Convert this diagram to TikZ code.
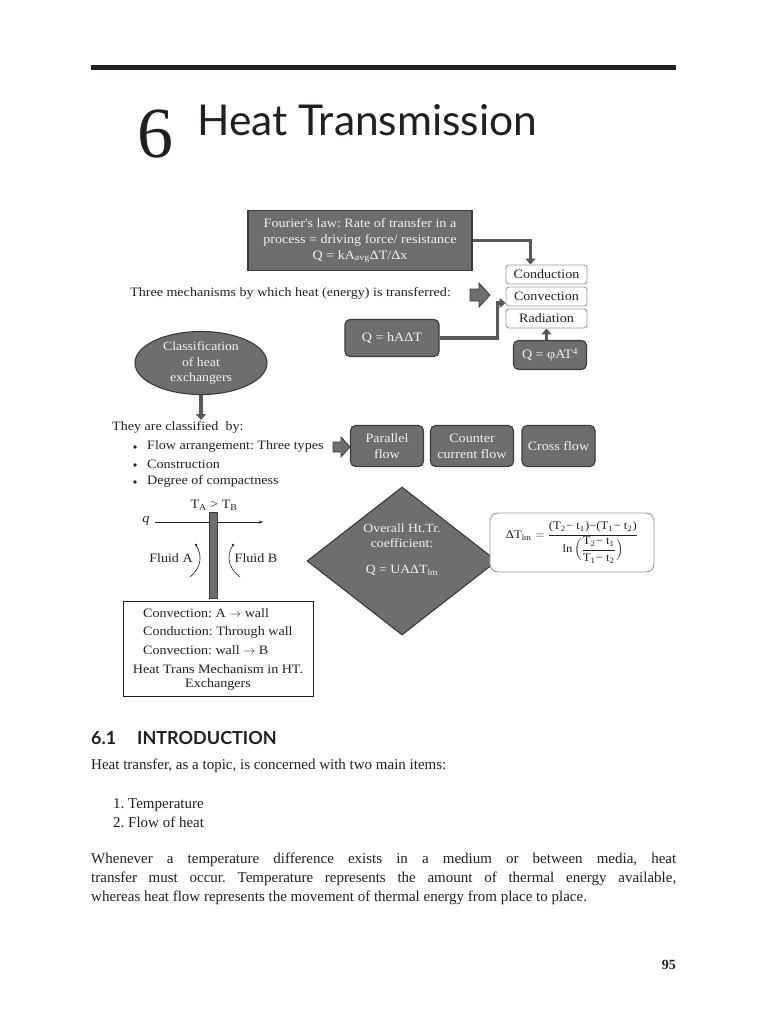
\documentclass[tikz,border=0pt]{standalone}
\usepackage{amsmath}
\usepackage{fontspec}
\setmainfont{Liberation Serif}
\newfontfamily\dfont[FakeStretch=1.1]{Liberation Serif}
\newfontfamily\hfont{Lato}
\usetikzlibrary{arrows.meta,shapes.geometric}
\definecolor{bfill}{HTML}{6E6E6E}
\definecolor{bedge}{HTML}{3A3A3A}
\definecolor{btext}{HTML}{F2F2F2}
\definecolor{wedge}{HTML}{9A9A9A}
\definecolor{arr}{HTML}{585858}
\definecolor{ink}{HTML}{231F20}
\newcommand{\sbs}[1]{\textsubscript{#1}\kern0.3pt}
\tikzset{
  dtxt/.style={font=\dfont\fontsize{12.8}{15.5}\selectfont, text=ink, inner sep=0pt},
  gbox/.style={draw=bedge, fill=bfill, line width=1.1pt, rounded corners=5pt, text=btext, align=center, inner sep=0pt, font=\dfont\fontsize{12.8}{16}\selectfont},
  wbox/.style={draw=wedge, fill=white, line width=0.9pt, rounded corners=3pt, text=ink, align=center, inner sep=0pt, font=\dfont\fontsize{12.8}{15}\selectfont},
  conn/.style={draw=arr, line width=3.6pt, -{Triangle[width=10pt,length=6pt]}},
  body/.style={font=\fontsize{15}{19}\selectfont, text=ink, inner sep=0pt, anchor=base west},
  blockarr/.style={draw=bedge, fill=bfill, line width=0.8pt},
}
\begin{document}
\frenchspacing
\begin{tikzpicture}[x=1pt,y=-1pt]
\useasboundingbox[fill=white] (0,0) rectangle (768,1024);
% header
\fill[ink] (91,65) rectangle (676,70);
\node[anchor=base west, inner sep=0pt, text=ink, font=\fontsize{72}{72}\selectfont] (num) at (137,158) {6};
\node[anchor=base west, inner sep=0pt, text=ink, font=\hfont\fontsize{42.5}{45}\selectfont] (title) at (197,136) {Heat Transmission};
% Fourier box
\node[gbox, rounded corners=0pt, minimum width=224pt, minimum height=60pt] (four) at (360,240.5) {Fourier's law: Rate of transfer in a\\process = driving force/ resistance\\Q = kA\textsubscript{avg}ΔT/Δx};
% mechanism boxes
\node[wbox, minimum width=81pt, minimum height=19pt] (cond) at (546.5,274.5) {Conduction};
\node[wbox, minimum width=81pt, minimum height=19pt] (conv) at (546.5,296.5) {Convection};
\node[wbox, minimum width=81pt, minimum height=19pt] (rad) at (546.5,318.5) {Radiation};
\node[dtxt, anchor=west] (three) at (130,293) {Three mechanisms by which heat (energy) is transferred:};
\draw[blockarr] (470,289) -- (479,289) -- (479,283) -- (490,295) -- (479,307) -- (479,301) -- (470,301) -- cycle;
\node[gbox, minimum width=94pt, minimum height=37pt] (qh) at (392,338) {Q = hAΔT};
\node[gbox, minimum width=73pt, minimum height=29pt] (qphi) at (550,355) {Q = φAT\textsuperscript{4}};
\draw[conn] (four.east) -| ([xshift=-16pt]cond.north);
\draw[conn] (qh.east) -- ++(58,0) |- ([yshift=-6.5pt]conv.west);
\draw[conn] (rad.south |- qphi.north) -- (rad.south);
% classification
\node[ellipse, draw=bedge, fill=bfill, line width=1.1pt, minimum width=132pt, minimum height=63pt, inner sep=0pt, text=btext, align=center, font=\dfont\fontsize{12.5}{15.5}\selectfont] (cls) at (201,363) {Classification\\of heat\\exchangers};
\coordinate (clsend) at (201,420);
\draw[conn] (cls.south) -- (clsend);
\node[dtxt, anchor=west] (they) at (112,427) {They are classified \ by:};
\node[dtxt, anchor=west] (b1) at (147,446) {Flow arrangement: Three types};
\node[dtxt, anchor=west] (b2) at (147,464) {Construction};
\node[dtxt, anchor=west] (b3) at (147,481) {Degree of compactness};
\foreach \yy in {446,464,481} \fill[ink] (135,\yy+1) circle (1.9pt);
\draw[blockarr] (333,442) -- (341,442) -- (341,437) -- (350,447) -- (341,457) -- (341,452) -- (333,452) -- cycle;
\node[gbox, minimum width=73pt, minimum height=41pt] (par) at (387,446) {Parallel\\flow};
\node[gbox, minimum width=83pt, minimum height=41pt] (cnt) at (472,446) {Counter\\current flow};
\node[gbox, minimum width=73pt, minimum height=41pt] (crs) at (558.5,446) {Cross flow};
% wall sketch
\node[dtxt] (tab) at (214,505) {T\textsubscript{A} > T\textsubscript{B}};
\node[dtxt, font=\dfont\itshape\fontsize{13}{14}\selectfont] (q) at (146,521) {q};
\coordinate (qend) at (263,522);
\draw[ink, line width=0.6pt, -{Stealth[length=4pt,width=3pt]}] (155,522) -- (qend);
\node[draw=bedge, fill=bfill, line width=0.8pt, minimum width=8pt, minimum height=86pt, inner sep=0pt] (wall) at (213.5,555) {};
\node[dtxt] (fa) at (171,558) {Fluid A};
\node[dtxt] (fb) at (256,558) {Fluid B};
\draw[ink, line width=0.6pt] (196,545) .. controls (203,556) and (201,568) .. (190,577);
\fill[ink] (196,545) circle (1.3pt);
\draw[ink, line width=0.6pt] (233,545) .. controls (226,556) and (228,568) .. (240,577);
\fill[ink] (233,545) circle (1.3pt);
% diamond
\node[diamond, draw=bedge, fill=bfill, line width=1.1pt, minimum width=190pt, minimum height=148pt, inner sep=0pt] (dia) at (402,561) {};
\node[text=btext, align=center, inner sep=0pt, font=\dfont\fontsize{12.5}{15}\selectfont] (diat) at (402,550) {Overall Ht.Tr.\\coefficient:\\[11pt]Q = UAΔT\textsubscript{lm}};
% formula
\node[wbox, rounded corners=8pt, minimum width=164pt, minimum height=59pt, font=\dfont\fontsize{11.5}{13}\selectfont] (form) at (572,542.5) {$\mbox{ΔT\sbs{lm}} = \dfrac{\mbox{(T\sbs{2} − t\sbs{1})−(T\sbs{1} − t\sbs{2})}\rule[-4pt]{0pt}{4pt}}{\mbox{ln}\,\Bigl(\dfrac{\mbox{T\sbs{2} − t\sbs{1}}}{\mbox{T\sbs{1} − t\sbs{2}}}\Bigr)}$};
% mechanism box
\node[draw=ink, line width=0.8pt, minimum width=190pt, minimum height=95pt, inner sep=0pt] (mech) at (218,648.5) {};
\node[dtxt, anchor=west] (m1) at (143,613) {Convection: A $\rightarrow$ wall};
\node[dtxt, anchor=west] (m2) at (143,632) {Conduction: Through wall};
\node[dtxt, anchor=west] (m3) at (143,650) {Convection: wall $\rightarrow$ B};
\node[dtxt] (m4) at (218,669) {Heat Trans Mechanism in HT.};
\node[dtxt] (m5) at (218,684) {Exchangers};
% body text
\node[body, font=\hfont\bfseries\fontsize{18}{20}\selectfont] (sec) at (91,744) {6.1};
\node[body, font=\hfont\bfseries\fontsize{18}{20}\selectfont] (secname) at (137,744) {INTRODUCTION};
\node[body] (l1) at (91,769) {Heat transfer, as a topic, is concerned with two main items:};
\node[body] (i1) at (113,808) {1.\ Temperature};
\node[body] (i2) at (113,827) {2.\ Flow of heat};
\node[body] (p1) at (91,863) {\makebox[585pt][s]{Whenever a temperature difference exists in a medium or between media, heat}};
\node[body] (p2) at (91,882) {\makebox[585pt][s]{transfer must occur. Temperature represents the amount of thermal energy available,}};
\node[body] (p3) at (91,901) {whereas heat flow represents the movement of thermal energy from place to place.};
\node[body, anchor=base east, font=\bfseries\fontsize{14}{16}\selectfont] (page) at (676,969) {95};
\end{tikzpicture}
\end{document}
